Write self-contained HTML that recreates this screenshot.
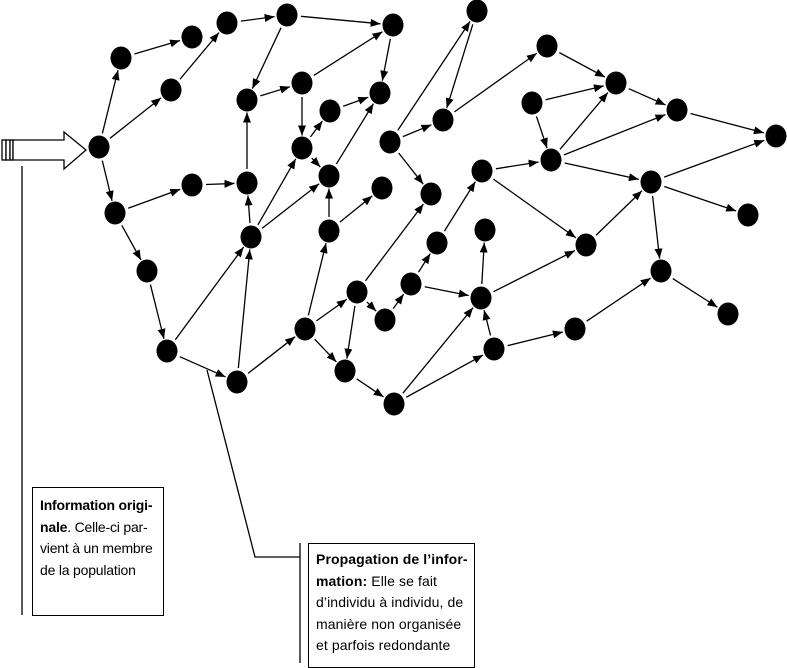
<!DOCTYPE html>
<html><head><meta charset="utf-8"><style>
body{margin:0;background:#fff;width:787px;height:663px;overflow:hidden;position:relative;font-family:"Liberation Sans",sans-serif}
.box{position:absolute;border:1.5px solid #000;box-sizing:border-box;font-size:14px;line-height:21.6px;color:#000;white-space:nowrap}
svg{position:absolute;left:0;top:0}
</style></head><body>
<svg id="s" width="787" height="663" viewBox="0 0 787 663">
<defs><marker id="ah" markerWidth="10" markerHeight="8" refX="10" refY="4" orient="auto" markerUnits="userSpaceOnUse"><path d="M0,0 L10,4 L0,8 z" fill="#000"/></marker></defs>
<g fill="#fff" stroke="#000" stroke-width="1.3">
<rect x="2" y="140" width="4" height="20"/><rect x="6" y="140" width="4" height="20"/><rect x="10" y="140" width="3" height="20"/>
<path d="M13,140 L64,140 L64,132 L86,150 L64,169 L64,160 L13,160 z"/>
</g>
<g stroke="#000" stroke-width="1.3" fill="none">
<path d="M22,166 L22,615"/>
<path d="M207,370 L255,557 L300,557"/>
<path d="M300,543 L300,663"/>
</g>
<g id="edges" stroke="#000" stroke-width="1.3"></g>
<g id="nodes" fill="#000"></g>
</svg>
<div class="box" style="left:32px;top:487px;width:132px;height:129px;padding:7px 0 0 7px;letter-spacing:-0.2px"><b>Information origi-<br>nale</b>. Celle-ci par-<br>vient à un membre<br>de la population</div>
<div class="box" style="left:308px;top:543px;width:167px;height:125px;padding:5px 0 0 7px;letter-spacing:0.1px"><b>Propagation de l’infor-<br>mation:</b> Elle se fait<br>d’individu à individu, de<br>manière non organisée<br>et parfois redondante</div>
<script>
var N={A:[99,147],B:[121,58],C:[192,37],C2:[227,23],D:[287,15],E:[393,25],F:[171,90],G:[115,213],H:[192,185],I:[247,183],J:[147,271],K:[167,351],L:[237,382],M:[251,237],N:[247,100],O:[302,83],P:[330,111],Q:[380,93],R:[302,148],S:[329,176],T:[382,188],U:[329,231],V:[390,142],W:[443,120],X:[477,11],Y:[431,194],Z:[305,329],a:[357,292],b:[385,320],c:[345,371],d:[394,404],e:[411,284],f:[437,243],g:[485,230],h:[482,171],i:[481,298],j:[494,349],k:[575,329],l:[586,245],m:[547,46],n:[616,83],o:[532,103],p:[551,160],q:[677,110],r:[776,136],s:[651,182],t:[748,215],u:[661,271],v:[728,314]};
var E="A-B A-F A-G B-C F-C2 C2-D D-E D-N N-O O-E O-R E-Q P-Q R-P R-S S-Q I-N M-I M-R M-S U-S U-T G-H H-I G-J J-K K-M L-M K-L L-Z Z-U Z-a Z-c a-c a-b b-e e-f a-Y c-d d-i d-j j-i j-k e-i i-g i-l k-u u-v V-X X-W V-W V-Y W-m m-n o-n o-p p-n p-q n-q q-r h-p h-l p-s s-r s-t s-u l-s f-h".split(" ");
var ns="http://www.w3.org/2000/svg",eg=document.getElementById("edges"),ng=document.getElementById("nodes");
E.forEach(function(x){var p=x.split("-"),a=N[p[0]],b=N[p[1]];var dx=b[0]-a[0],dy=b[1]-a[1],L=Math.sqrt(dx*dx+dy*dy),ux=dx/L,uy=dy/L;
var l=document.createElementNS(ns,"line");l.setAttribute("x1",a[0]+ux*14);l.setAttribute("y1",a[1]+uy*14);l.setAttribute("x2",b[0]-ux*12.5);l.setAttribute("y2",b[1]-uy*12.5);l.setAttribute("marker-end","url(#ah)");eg.appendChild(l);});
for(var k in N){var c=document.createElementNS(ns,"ellipse");c.setAttribute("cx",N[k][0]);c.setAttribute("cy",N[k][1]);c.setAttribute("rx",10.5);c.setAttribute("ry",11.5);ng.appendChild(c);}
</script>
</body></html>
